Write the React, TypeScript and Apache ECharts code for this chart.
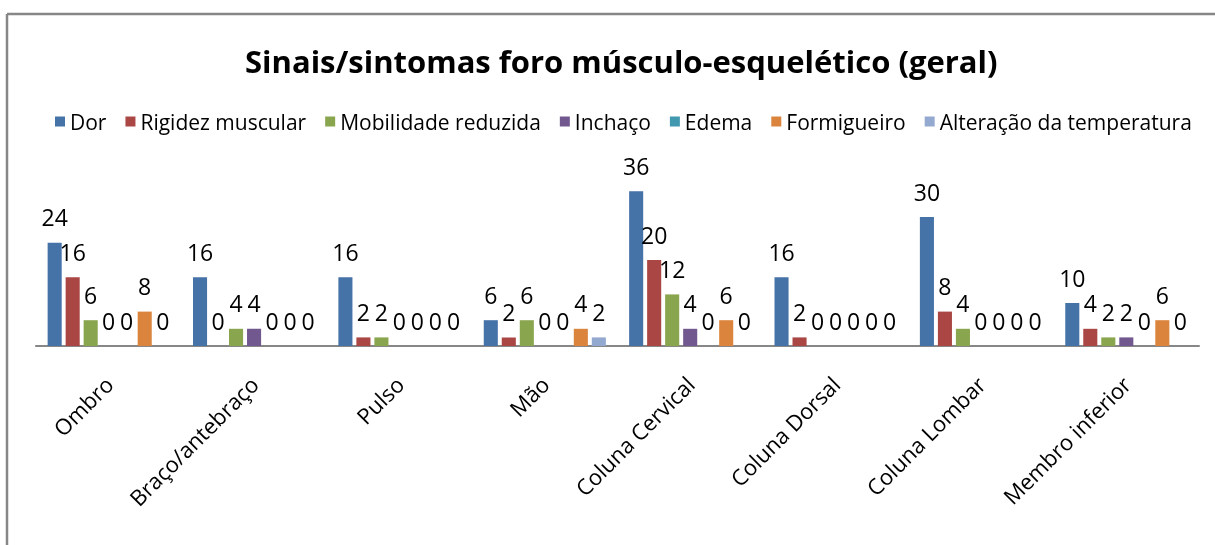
import React, { useEffect, useRef } from 'react';
import * as echarts from 'echarts';

const categories = ['Ombro', 'Braço/antebraço', 'Pulso', 'Mão', 'Coluna Cervical', 'Coluna Dorsal', 'Coluna Lombar', 'Membro inferior'];
const seriesNames = ['Dor', 'Rigidez muscular', 'Mobilidade reduzida', 'Inchaço', 'Edema', 'Formigueiro', 'Alteração da temperatura'];
const dor = [24, 16, 16, 6, 36, 16, 30, 10];
const rigidez = [16, 0, 2, 2, 20, 2, 8, 4];
const mobilidade = [6, 4, 2, 6, 12, 0, 4, 2];
const inchaco = [0, 4, 0, 0, 4, 0, 0, 2];
const edema = [0, 0, 0, 0, 0, 0, 0, 0];
const formigueiro = [8, 0, 0, 4, 6, 0, 0, 6];
const alteracao = [0, 0, 0, 2, 0, 0, 0, 0];
const seriesValues = [dor, rigidez, mobilidade, inchaco, edema, formigueiro, alteracao];
const colors = ['#4572A7', '#AA4643', '#89A54E', '#71588F', '#4198AF', '#DB843D', '#93A9CF'];

const FONT = '"Open Sans", sans-serif';

export default function App() {
  const ref = useRef<HTMLDivElement>(null);
  useEffect(() => {
    if (!ref.current) return;
    const chart = echarts.init(ref.current, undefined, { renderer: 'svg' });
    chart.setOption({
      animation: false,
      color: colors,
      title: {
        text: 'Sinais/sintomas foro músculo-esquelético (geral)',
        left: 240,
        top: 40,
        textStyle: { fontFamily: FONT, fontSize: 31, fontWeight: 'bold', color: '#000' },
      },
      legend: {
        top: 106,
        left: 50,
        itemWidth: 10,
        itemHeight: 10,
        itemGap: 19,
        icon: 'rect',
        textStyle: { fontFamily: FONT, fontSize: 21, color: '#000' },
        data: seriesNames,
      },
      grid: { left: 36, right: 16, top: 174, bottom: 199, containLabel: false },
      xAxis: {
        type: 'category',
        data: categories,
        axisLine: { lineStyle: { color: '#878787', width: 2 } },
        axisTick: { show: false },
        axisLabel: {
          interval: 0,
          rotate: 45,
          margin: 34,
          fontFamily: FONT,
          fontSize: 22,
          color: '#000',
        },
      },
      yAxis: { type: 'value', min: 0, max: 40, show: false, splitLine: { show: false } },
      graphic: [
        { type: 'line', shape: { x1: 7, y1: 14, x2: 1215, y2: 14 }, style: { stroke: '#878787', lineWidth: 2.5 } },
        { type: 'line', shape: { x1: 7, y1: 14, x2: 7, y2: 545 }, style: { stroke: '#878787', lineWidth: 2.5 } },
      ],
      series: seriesNames.map((name, i) => ({
        name,
        type: 'bar',
        data: seriesValues[i],
        barGap: '28%',
        barCategoryGap: '16%',
        label: {
          show: true,
          position: 'top',
          distance: 14,
          fontFamily: FONT,
          fontSize: 23,
          color: '#000',
        },
      })),
    });
    return () => chart.dispose();
  }, []);
  return <div ref={ref} style={{ position: 'fixed', left: 0, top: 0, width: 1215, height: 545 }} />;
}
